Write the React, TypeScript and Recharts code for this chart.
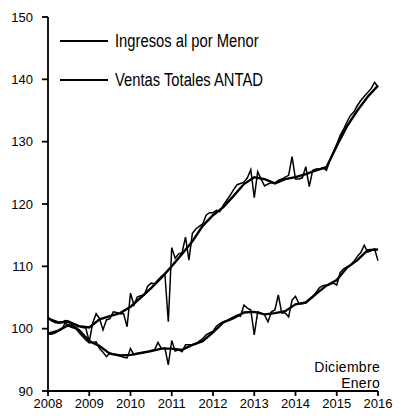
// Índices mensuales 2008-2016: Ingresos al por Menor vs Ventas Totales ANTAD
import { Line, LineChart, XAxis, YAxis } from 'recharts'

const YEARS = [2008, 2009, 2010, 2011, 2012, 2013, 2014, 2015, 2016]
const Y_TICKS = [90, 100, 110, 120, 130, 140, 150]

// serie superior, mensual ene-2008 .. ene-2016 (línea delgada con picos)
const superiorMensual = [
  101.9, 101.3, 101.0, 100.9, 101.0, 101.3, 101.2, 100.6, 100.2, 100.4, 100.2, 100.1,
  97.9, 100.9, 102.4, 101.6, 99.8, 101.4, 101.6, 102.7, 102.6, 102.4, 102.4, 100.3,
  105.7, 103.8, 105.1, 105.3, 105.4, 106.8, 107.3, 107.2, 107.8, 108.4, 108.8, 101.1,
  113.0, 111.3, 112.0, 112.2, 114.7, 111.0, 115.3, 116.0, 116.4, 116.8, 118.2, 118.6,
  118.6, 119.0, 118.8, 119.8, 120.6, 121.4, 122.3, 123.1, 123.3, 123.5, 124.2, 125.5,
  121.0, 125.2, 124.0, 122.9, 123.2, 123.4, 123.4, 123.8, 124.0, 124.3, 124.6, 127.6,
  124.0, 124.0, 124.2, 126.0, 122.8, 125.4, 125.6, 125.6, 125.8, 125.4, 127.0, 128.3,
  129.6, 131.0, 132.0, 133.2, 134.2, 134.8, 135.8, 136.6, 137.3, 137.9, 138.5, 139.5,
  138.8,
]

// serie inferior, mensual ene-2008 .. ene-2016
const inferiorMensual = [
  99.2, 99.1, 99.3, 99.6, 99.9, 100.9, 100.4, 100.2, 100.1, 99.4, 98.8, 98.2,
  97.7, 97.8, 97.9, 96.8, 96.2, 95.5, 96.1, 95.9, 95.8, 95.6, 95.4, 95.3,
  96.8, 95.8, 96.0, 96.1, 96.2, 96.3, 96.5, 96.6, 97.8, 96.8, 96.9, 94.2,
  98.1, 96.4, 96.6, 96.3, 97.4, 97.4, 97.4, 97.5, 98.0, 98.4, 99.0, 99.3,
  99.6, 100.4, 100.8, 101.1, 101.3, 101.6, 101.9, 102.2, 102.0, 103.8, 103.3, 103.0,
  99.0, 102.7, 102.5, 102.2, 101.1, 102.7, 103.0, 105.4, 102.5, 102.5, 101.9, 104.6,
  105.2, 104.0, 104.0, 104.1, 104.6, 105.0, 105.8, 106.6, 106.9, 107.0, 107.1, 107.3,
  107.0, 109.0, 109.6, 109.9, 110.2, 110.8, 111.6, 112.2, 113.4, 112.3, 112.5, 112.8,
  110.9,
]

// tendencias trimestrales (línea gruesa)
const superiorTendencia = [
  101.6, 101.0, 101.1, 100.4, 100.2, 101.5, 102.0, 102.5, 103.5,
  105.0, 106.5, 108.2, 110.0, 112.0, 114.0, 116.5, 118.2,
  119.5, 121.3, 123.2, 124.3, 124.0, 123.3, 124.0, 124.3,
  124.8, 125.4, 125.9, 129.3, 132.5, 135.0, 137.2, 139.0,
]
const inferiorTendencia = [
  99.2, 99.7, 100.6, 99.8, 98.0, 97.2, 96.0, 95.7, 95.8,
  96.1, 96.4, 96.8, 96.8, 96.6, 97.4, 98.0, 99.4,
  101.0, 101.7, 102.6, 102.7, 102.3, 102.5, 102.8, 103.9,
  104.2, 105.6, 106.9, 107.8, 109.8, 111.0, 112.6, 112.7,
]

const mensual = (vals: number[]) => vals.map((v, i) => ({ t: 2008 + i / 12, v }))
const trimestral = (vals: number[]) => vals.map((v, i) => ({ t: 2008 + i / 4, v }))

const FONT = '"Liberation Sans", Arial, sans-serif'
const tickStyle = { fill: '#000', fontSize: 13, fontFamily: FONT }

// texto de leyenda: letra alta y angosta como en el original
const legendText = {
  position: 'absolute' as const,
  left: 115,
  fontSize: 18,
  lineHeight: '20px',
  color: '#000',
  whiteSpace: 'nowrap' as const,
  transform: 'scaleX(0.82)',
  transformOrigin: 'left center',
}

function App() {
  return (
    <div style={{ position: 'absolute', left: 0, top: 0, width: 401, height: 419, background: '#fff', fontFamily: FONT }}>
      <LineChart width={401} height={419} margin={{ top: 17, right: 23, bottom: 0, left: 0 }}>
        <XAxis
          type="number"
          dataKey="t"
          domain={[2008, 2016]}
          ticks={YEARS}
          height={28}
          tickSize={5}
          tickMargin={3}
          tick={tickStyle}
          stroke="#000"
          strokeWidth={1.8}
          interval={0}
        />
        <YAxis
          type="number"
          domain={[90, 150]}
          ticks={Y_TICKS}
          width={48}
          tickSize={6}
          tickMargin={9}
          tick={tickStyle}
          stroke="#000"
          strokeWidth={1.8}
          interval={0}
        />
        <Line data={trimestral(superiorTendencia)} dataKey="v" stroke="#000" strokeWidth={2.4} dot={false} isAnimationActive={false} />
        <Line data={mensual(superiorMensual)} dataKey="v" stroke="#000" strokeWidth={1.5} dot={false} isAnimationActive={false} />
        <Line data={trimestral(inferiorTendencia)} dataKey="v" stroke="#000" strokeWidth={2.4} dot={false} isAnimationActive={false} />
        <Line data={mensual(inferiorMensual)} dataKey="v" stroke="#000" strokeWidth={1.5} dot={false} isAnimationActive={false} />
      </LineChart>

      {/* leyenda */}
      <div style={{ position: 'absolute', left: 60, top: 40, width: 48, height: 1.5, background: '#000' }} />
      <div style={{ ...legendText, top: 31 }}>Ingresos al por Menor</div>
      <div style={{ position: 'absolute', left: 60, top: 79, width: 48, height: 2.2, background: '#000' }} />
      <div style={{ ...legendText, top: 70 }}>Ventas Totales ANTAD</div>

      {/* nota */}
      <div style={{ position: 'absolute', right: 21, top: 359, fontSize: 14, lineHeight: '16px', letterSpacing: 0.3, color: '#000', textAlign: 'right' }}>
        Diciembre
        <br />
        Enero
      </div>
    </div>
  )
}

export default App
